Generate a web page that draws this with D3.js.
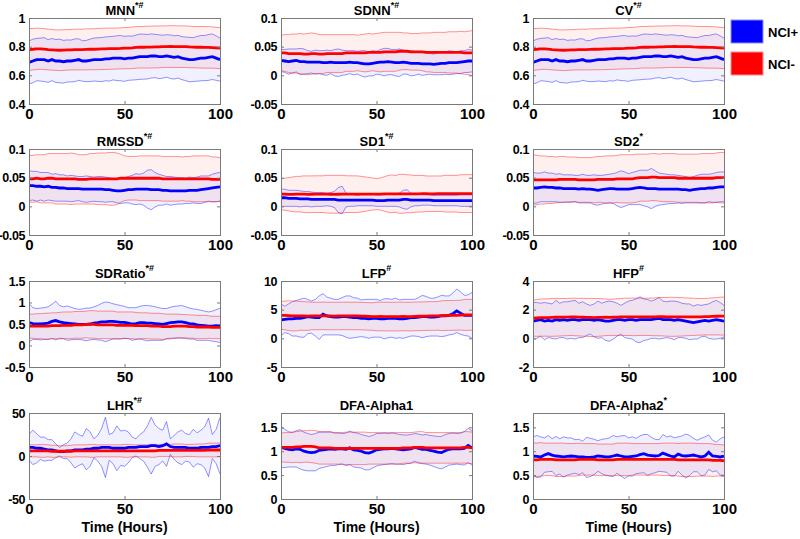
<!DOCTYPE html>
<html>
<head>
<meta charset="utf-8">
<script src="https://cdn.jsdelivr.net/npm/d3@7"></script>
<style>
body { margin: 0; background: #fff; }
svg { display: block; font-family: "Liberation Sans", Arial, sans-serif; font-weight: bold; }
</style>
</head>
<body>
<div id="chart"></div>
<script>
const w = 800;
const h = 539;

// hours on the x axis
const hours = [0,2,4,6,8,10,12,14,16,18,20,22,24,26,28,30,32,34,36,38,40,42,44,46,48,50,
  52,54,56,58,60,62,64,66,68,70,72,74,76,78,80,82,84,86,88,90,92,94,96,98,100];
const xTicks = [0, 50, 100];

// MNN (NCI+ / NCI-) mean and sd
const mnnPosMean = [0.69,0.70,0.71,0.71,0.71,0.70,0.71,0.70,0.70,0.695,
  0.70,0.70,0.705,0.71,0.70,0.70,0.705,0.71,0.71,0.71,
  0.715,0.715,0.72,0.72,0.72,0.715,0.72,0.72,0.725,0.73,
  0.73,0.73,0.735,0.735,0.73,0.73,0.735,0.73,0.725,0.73,
  0.72,0.715,0.71,0.71,0.715,0.72,0.72,0.725,0.73,0.72,0.71];
const mnnPosSd = [0.150,0.152,0.148,0.150,0.153,0.149,0.147,0.150,0.152,0.149,
  0.147,0.146,0.149,0.145,0.141,0.144,0.148,0.150,0.152,0.154,
  0.153,0.155,0.152,0.156,0.158,0.157,0.155,0.153,0.156,0.158,
  0.157,0.155,0.154,0.151,0.153,0.150,0.148,0.152,0.151,0.149,
  0.150,0.152,0.155,0.153,0.156,0.158,0.157,0.160,0.159,0.155,0.150];
const mnnNegMean = [0.78,0.782,0.785,0.785,0.783,0.78,0.778,0.776,0.775,0.776,
  0.778,0.778,0.78,0.78,0.78,0.781,0.782,0.782,0.783,0.784,
  0.785,0.786,0.786,0.787,0.788,0.79,0.79,0.792,0.795,0.796,
  0.796,0.797,0.797,0.798,0.798,0.80,0.80,0.801,0.80,0.80,
  0.80,0.80,0.798,0.797,0.796,0.796,0.795,0.795,0.794,0.792,0.79];
const mnnNegSd = [0.146,0.145,0.144,0.143,0.143,0.142,0.142,0.141,0.142,0.142,
  0.141,0.141,0.142,0.142,0.142,0.143,0.143,0.143,0.144,0.144,
  0.144,0.144,0.143,0.143,0.143,0.144,0.144,0.145,0.145,0.145,
  0.145,0.146,0.146,0.146,0.146,0.145,0.145,0.146,0.146,0.145,
  0.145,0.145,0.145,0.144,0.144,0.145,0.145,0.145,0.144,0.143,0.143];

// SDNN
const sdnnPosMean = [0.026,0.025,0.024,0.025,0.026,0.024,0.024,0.023,0.023,0.023,
  0.023,0.022,0.022,0.023,0.022,0.022,0.022,0.022,0.023,0.022,
  0.022,0.021,0.020,0.020,0.021,0.022,0.023,0.023,0.024,0.023,
  0.022,0.022,0.023,0.022,0.021,0.021,0.021,0.020,0.020,0.020,
  0.019,0.020,0.021,0.021,0.022,0.022,0.022,0.023,0.024,0.025,0.025];
const sdnnPosSd = [0.019,0.020,0.022,0.021,0.020,0.023,0.022,0.020,0.019,0.021,
  0.020,0.021,0.022,0.020,0.023,0.024,0.022,0.021,0.020,0.021,
  0.020,0.022,0.023,0.021,0.022,0.020,0.022,0.024,0.023,0.022,
  0.023,0.024,0.021,0.020,0.022,0.021,0.019,0.020,0.019,0.018,
  0.018,0.019,0.020,0.019,0.021,0.020,0.019,0.020,0.019,0.020,0.019];
const sdnnNegMean = [0.039,0.039,0.038,0.038,0.038,0.038,0.037,0.037,0.038,0.038,
  0.037,0.037,0.038,0.038,0.038,0.038,0.038,0.039,0.039,0.039,
  0.039,0.039,0.039,0.040,0.040,0.040,0.040,0.041,0.041,0.041,
  0.041,0.042,0.042,0.042,0.041,0.041,0.041,0.041,0.040,0.040,
  0.040,0.040,0.040,0.040,0.040,0.040,0.040,0.040,0.039,0.039,0.039];
const sdnnNegSd = [0.031,0.032,0.033,0.034,0.034,0.035,0.035,0.036,0.036,0.035,
  0.034,0.034,0.033,0.033,0.033,0.033,0.033,0.032,0.032,0.032,
  0.031,0.032,0.033,0.033,0.032,0.033,0.034,0.034,0.034,0.034,
  0.034,0.033,0.032,0.032,0.032,0.032,0.032,0.033,0.034,0.034,
  0.035,0.035,0.035,0.035,0.036,0.036,0.036,0.037,0.037,0.038,0.039];

// CV (same traces as MNN in the figure)
const cvPosMean = mnnPosMean, cvPosSd = mnnPosSd;
const cvNegMean = mnnNegMean, cvNegSd = mnnNegSd;

// RMSSD
const rmssdPosMean = [0.036,0.036,0.035,0.035,0.034,0.035,0.033,0.033,0.032,0.032,
  0.031,0.031,0.031,0.031,0.030,0.030,0.030,0.030,0.030,0.030,
  0.029,0.029,0.028,0.027,0.027,0.028,0.029,0.029,0.030,0.030,
  0.030,0.030,0.029,0.029,0.029,0.028,0.028,0.027,0.027,0.027,
  0.027,0.027,0.028,0.028,0.028,0.029,0.030,0.031,0.032,0.033,0.034];
const rmssdPosSd = [0.026,0.025,0.026,0.024,0.025,0.024,0.023,0.024,0.023,0.023,
  0.022,0.023,0.022,0.021,0.022,0.023,0.022,0.021,0.022,0.022,
  0.022,0.021,0.020,0.021,0.022,0.022,0.023,0.025,0.027,0.026,
  0.028,0.033,0.035,0.030,0.027,0.026,0.024,0.025,0.024,0.023,
  0.023,0.022,0.023,0.022,0.023,0.024,0.023,0.022,0.024,0.025,0.025];
const rmssdNegMean = [0.048,0.048,0.049,0.048,0.048,0.049,0.049,0.048,0.048,0.048,
  0.048,0.048,0.048,0.047,0.047,0.047,0.048,0.048,0.048,0.048,
  0.048,0.048,0.048,0.048,0.049,0.049,0.049,0.049,0.049,0.049,
  0.049,0.049,0.049,0.049,0.049,0.048,0.048,0.048,0.048,0.048,
  0.048,0.048,0.048,0.048,0.048,0.048,0.048,0.048,0.047,0.047,0.047];
const rmssdNegSd = [0.040,0.041,0.041,0.042,0.042,0.043,0.043,0.044,0.044,0.044,
  0.044,0.045,0.044,0.043,0.043,0.043,0.044,0.044,0.045,0.045,
  0.045,0.046,0.046,0.045,0.042,0.039,0.038,0.038,0.038,0.039,
  0.039,0.039,0.039,0.039,0.039,0.039,0.039,0.039,0.039,0.039,
  0.038,0.039,0.039,0.040,0.040,0.040,0.040,0.040,0.039,0.039,0.038];

// SD1
const sd1PosMean = [0.015,0.015,0.014,0.014,0.014,0.013,0.013,0.013,0.012,0.012,
  0.012,0.012,0.012,0.012,0.012,0.011,0.011,0.011,0.011,0.011,
  0.011,0.011,0.011,0.011,0.011,0.010,0.010,0.010,0.011,0.011,
  0.011,0.011,0.012,0.012,0.011,0.011,0.011,0.011,0.011,0.011,
  0.010,0.010,0.010,0.010,0.010,0.010,0.010,0.010,0.010,0.010,0.010];
const sd1PosSd = [0.015,0.015,0.014,0.014,0.014,0.014,0.013,0.013,0.013,0.012,
  0.012,0.012,0.011,0.012,0.014,0.022,0.024,0.012,0.011,0.011,
  0.010,0.010,0.010,0.010,0.010,0.010,0.010,0.010,0.011,0.011,
  0.011,0.012,0.016,0.017,0.012,0.010,0.010,0.009,0.009,0.009,
  0.009,0.009,0.009,0.009,0.009,0.009,0.009,0.010,0.010,0.010,0.010];
const sd1NegMean = [0.0212,0.0212,0.0210,0.0210,0.0212,0.0213,0.0212,0.0210,0.0211,0.0212,
  0.0213,0.0212,0.0212,0.0211,0.0210,0.0211,0.0212,0.0213,0.0213,0.0212,
  0.0211,0.0212,0.0213,0.0214,0.0214,0.0213,0.0214,0.0216,0.0217,0.0218,
  0.0218,0.0218,0.0219,0.0219,0.0218,0.0218,0.0219,0.0220,0.0220,0.0219,
  0.0219,0.0220,0.0220,0.0221,0.0221,0.0220,0.0220,0.0221,0.0222,0.0222,0.0222];
const sd1NegSd = [0.027,0.028,0.029,0.030,0.031,0.031,0.032,0.032,0.032,0.032,
  0.032,0.032,0.033,0.033,0.033,0.033,0.033,0.032,0.032,0.032,
  0.032,0.031,0.030,0.029,0.028,0.027,0.028,0.030,0.032,0.033,
  0.032,0.034,0.034,0.033,0.033,0.032,0.032,0.032,0.031,0.031,
  0.031,0.031,0.031,0.032,0.032,0.032,0.032,0.033,0.033,0.033,0.033];

// SD2
const sd2PosMean = [0.032,0.032,0.033,0.034,0.033,0.033,0.032,0.032,0.031,0.031,
  0.031,0.031,0.030,0.031,0.030,0.030,0.029,0.028,0.029,0.030,
  0.031,0.031,0.030,0.030,0.030,0.030,0.031,0.032,0.033,0.032,
  0.031,0.031,0.031,0.030,0.030,0.030,0.030,0.030,0.030,0.029,
  0.029,0.028,0.029,0.030,0.031,0.031,0.032,0.032,0.033,0.034,0.034];
const sd2PosSd = [0.027,0.026,0.025,0.026,0.025,0.025,0.024,0.025,0.024,0.024,
  0.024,0.023,0.024,0.025,0.024,0.024,0.026,0.026,0.025,0.025,
  0.025,0.026,0.029,0.032,0.030,0.027,0.028,0.029,0.030,0.031,
  0.032,0.035,0.031,0.028,0.027,0.026,0.025,0.025,0.024,0.024,
  0.023,0.022,0.023,0.024,0.025,0.025,0.024,0.025,0.026,0.026,0.026];
const sd2NegMean = [0.046,0.046,0.046,0.046,0.046,0.046,0.046,0.047,0.047,0.047,
  0.047,0.047,0.046,0.046,0.046,0.046,0.046,0.047,0.047,0.047,
  0.047,0.047,0.048,0.048,0.048,0.048,0.048,0.049,0.050,0.050,
  0.050,0.051,0.051,0.050,0.050,0.050,0.050,0.050,0.049,0.049,
  0.049,0.049,0.049,0.049,0.049,0.049,0.049,0.049,0.050,0.050,0.050];
const sd2NegSd = [0.044,0.043,0.042,0.042,0.041,0.041,0.040,0.040,0.040,0.039,
  0.039,0.039,0.039,0.039,0.039,0.039,0.040,0.040,0.040,0.041,
  0.041,0.041,0.041,0.042,0.042,0.042,0.042,0.042,0.041,0.041,
  0.041,0.041,0.041,0.041,0.042,0.042,0.042,0.042,0.042,0.042,
  0.042,0.042,0.042,0.042,0.043,0.043,0.043,0.043,0.043,0.044,0.044];

// SDRatio
const sdrPosMean = [0.53,0.51,0.50,0.50,0.51,0.52,0.56,0.58,0.55,0.53,
  0.52,0.51,0.50,0.49,0.49,0.49,0.50,0.52,0.53,0.55,
  0.55,0.56,0.56,0.55,0.54,0.54,0.52,0.50,0.51,0.53,
  0.53,0.52,0.52,0.51,0.50,0.49,0.51,0.53,0.54,0.55,
  0.55,0.53,0.51,0.50,0.48,0.47,0.46,0.45,0.45,0.46,0.47];
const sdrPosSd = [0.45,0.37,0.36,0.37,0.37,0.38,0.40,0.45,0.38,0.37,
  0.40,0.38,0.36,0.35,0.36,0.38,0.37,0.38,0.40,0.43,
  0.46,0.44,0.41,0.40,0.39,0.37,0.36,0.38,0.37,0.38,
  0.40,0.41,0.40,0.39,0.38,0.37,0.35,0.36,0.37,0.37,
  0.38,0.37,0.36,0.35,0.36,0.35,0.34,0.33,0.35,0.37,0.40];
const sdrNegMean = [0.45,0.45,0.45,0.45,0.45,0.45,0.46,0.46,0.46,0.47,
  0.47,0.47,0.48,0.48,0.48,0.49,0.49,0.49,0.48,0.48,
  0.48,0.48,0.48,0.47,0.47,0.47,0.47,0.47,0.46,0.46,
  0.46,0.46,0.45,0.45,0.45,0.44,0.44,0.44,0.45,0.45,
  0.45,0.45,0.44,0.44,0.43,0.43,0.43,0.43,0.42,0.42,0.42];
const sdrNegSd = [0.28,0.28,0.29,0.29,0.30,0.30,0.30,0.30,0.31,0.31,
  0.31,0.31,0.31,0.31,0.31,0.31,0.32,0.32,0.32,0.32,
  0.32,0.32,0.32,0.31,0.31,0.31,0.31,0.31,0.31,0.30,
  0.30,0.30,0.30,0.30,0.30,0.30,0.29,0.29,0.28,0.28,
  0.27,0.27,0.27,0.27,0.27,0.27,0.27,0.26,0.26,0.26,0.26];

// LFP
const lfpPosMean = [3.2,3.3,3.4,3.4,3.5,3.5,3.6,3.8,3.7,3.6,
  3.6,4.2,3.9,3.8,3.7,3.7,3.8,3.8,3.7,3.6,
  3.6,3.5,3.5,3.4,3.5,3.5,3.4,3.4,3.5,3.5,
  3.5,3.4,3.4,3.5,3.6,3.6,3.7,3.8,3.8,3.7,
  3.7,3.8,3.9,3.9,4.0,4.3,4.8,4.4,4.0,4.0,4.0];
const lfpPosSd = [2.8,2.3,2.6,3.0,3.1,3.3,3.4,3.0,2.8,3.2,
  3.8,3.6,3.3,3.2,3.1,3.1,3.3,3.6,3.7,3.5,
  3.4,3.2,3.3,3.4,3.3,3.3,3.2,3.5,3.4,3.3,
  3.5,3.3,3.4,3.3,3.2,3.2,3.4,3.7,3.5,3.3,
  3.3,3.4,3.6,3.5,3.4,3.6,3.8,3.7,3.5,3.6,4.0];
const lfpNegMean = [4.0,4.0,3.95,3.9,3.9,3.92,3.9,3.88,3.9,3.9,
  3.9,3.92,3.9,3.9,3.88,3.9,3.9,3.92,3.9,3.9,
  3.9,3.88,3.85,3.82,3.8,3.8,3.82,3.8,3.8,3.78,
  3.8,3.8,3.82,3.8,3.8,3.82,3.85,3.85,3.88,3.9,
  3.9,3.92,3.95,3.98,4.0,4.0,4.02,4.05,4.08,4.1,4.1];
const lfpNegSd = [2.4,2.5,2.6,2.6,2.6,2.5,2.5,2.5,2.4,2.4,
  2.4,2.4,2.4,2.4,2.4,2.4,2.4,2.4,2.4,2.4,
  2.4,2.4,2.4,2.4,2.4,2.5,2.5,2.5,2.5,2.5,
  2.5,2.5,2.5,2.5,2.5,2.5,2.5,2.5,2.5,2.5,
  2.5,2.5,2.6,2.6,2.6,2.6,2.6,2.6,2.7,2.7,2.7];

// HFP
const hfpPosMean = [1.2,1.25,1.3,1.2,1.25,1.2,1.3,1.25,1.3,1.25,
  1.3,1.3,1.25,1.3,1.3,1.3,1.25,1.3,1.25,1.2,
  1.2,1.25,1.3,1.3,1.25,1.3,1.3,1.25,1.3,1.3,
  1.3,1.3,1.35,1.4,1.3,1.3,1.3,1.25,1.3,1.25,
  1.2,1.15,1.1,1.15,1.2,1.25,1.2,1.25,1.3,1.25,1.2];
const hfpPosSd = [1.3,1.25,1.15,1.3,1.2,1.2,1.35,1.2,1.25,1.3,
  1.3,1.35,1.2,1.25,1.1,1.0,1.15,1.3,1.2,1.35,
  1.4,1.3,1.15,1.0,1.2,1.3,1.35,1.5,1.6,1.45,
  1.4,1.3,1.35,1.45,1.3,1.25,1.3,1.35,1.25,1.2,
  1.2,1.25,1.15,1.2,1.1,1.1,1.2,1.3,1.35,1.25,1.1];
const hfpNegMean = [1.4,1.42,1.44,1.45,1.45,1.46,1.47,1.47,1.48,1.48,
  1.5,1.49,1.48,1.47,1.46,1.46,1.45,1.46,1.46,1.47,
  1.46,1.47,1.48,1.49,1.5,1.5,1.5,1.5,1.5,1.5,
  1.5,1.5,1.5,1.51,1.51,1.5,1.5,1.5,1.5,1.5,
  1.5,1.5,1.5,1.5,1.5,1.51,1.52,1.53,1.54,1.55,1.55];
const hfpNegSd = [1.25,1.28,1.30,1.30,1.31,1.32,1.32,1.31,1.30,1.30,
  1.30,1.31,1.31,1.32,1.32,1.33,1.33,1.32,1.30,1.28,
  1.26,1.27,1.28,1.29,1.30,1.30,1.31,1.31,1.30,1.30,
  1.30,1.31,1.32,1.33,1.34,1.35,1.36,1.36,1.35,1.34,
  1.32,1.31,1.30,1.28,1.28,1.27,1.28,1.29,1.30,1.32,1.33];

// LHR
const lhrPosMean = [10,10,9,9,8,7,7,6,5,5,
  6,6,7,7,7,8,8,9,9,10,
  10,10,9,9,9,9,10,10,10,11,
  11,11,12,12,11,12,14,11,10,10,
  10,10,9,9,9,10,10,10,11,11,12];
const lhrPosSd = [15,20,17,13,14,12,12,8,5,8,
  9,14,21,18,16,24,20,11,15,22,
  35,15,18,26,20,21,18,12,10,14,
  17,24,33,24,21,18,26,9,14,18,
  20,16,16,22,18,20,24,34,14,20,33];
const lhrNegMean = [6,6,6,6,6,6,5.5,5.5,5.5,5.5,
  5.5,5.5,6,6,6,6,6,6,6,6,
  6,6,6,6,6,6,6,6,6,6,
  6,6,6,6,6.5,6.5,6.5,6.5,6.5,6.5,
  6.5,6.5,6.5,6.5,6.5,6.5,6.5,7,7,7,7];
const lhrNegSd = [7,7,7,7.5,7.5,7,7,7,6.5,6.5,
  6.5,7,7,7,7,7,7.5,7.5,7,7,
  7,7,7,7,7,7.5,7.5,7,7,7,
  7,7,7.5,7.5,7,7,7,7,7.5,7.5,
  7.5,7,7,7,7.5,7.5,7.5,8,8,8,8];

// DFA-Alpha1
const dfa1PosMean = [1.08,1.06,1.04,1.03,1.05,1.04,1.00,0.98,0.97,0.98,
  1.02,1.03,1.04,1.05,1.04,1.05,1.05,1.04,1.07,1.03,
  1.02,1.00,0.97,0.96,0.99,1.03,1.04,1.05,1.05,1.06,
  1.05,1.04,1.03,1.04,1.05,1.08,1.06,1.04,1.04,1.02,
  1.00,0.98,0.97,1.01,1.04,1.05,1.05,1.05,1.06,1.12,1.07];
const dfa1PosSd = [0.42,0.40,0.37,0.36,0.38,0.41,0.40,0.39,0.38,0.39,
  0.38,0.37,0.36,0.35,0.34,0.33,0.32,0.34,0.35,0.36,
  0.36,0.35,0.36,0.35,0.34,0.34,0.33,0.33,0.32,0.32,
  0.32,0.31,0.31,0.30,0.30,0.29,0.30,0.30,0.31,0.31,
  0.32,0.33,0.34,0.34,0.33,0.33,0.32,0.33,0.35,0.36,0.36];
const dfa1NegMean = [1.08,1.08,1.08,1.08,1.09,1.09,1.10,1.10,1.10,1.09,
  1.07,1.07,1.07,1.07,1.06,1.06,1.06,1.06,1.06,1.06,
  1.06,1.06,1.06,1.06,1.06,1.06,1.06,1.06,1.06,1.06,
  1.06,1.06,1.07,1.07,1.07,1.08,1.08,1.08,1.07,1.07,
  1.07,1.07,1.07,1.07,1.07,1.07,1.07,1.07,1.08,1.08,1.07];
const dfa1NegSd = [0.30,0.31,0.31,0.32,0.32,0.33,0.33,0.33,0.34,0.34,
  0.34,0.34,0.34,0.34,0.33,0.33,0.33,0.34,0.34,0.34,
  0.34,0.34,0.34,0.33,0.33,0.33,0.33,0.33,0.33,0.33,
  0.33,0.33,0.32,0.32,0.32,0.32,0.33,0.33,0.32,0.32,
  0.32,0.32,0.32,0.32,0.32,0.32,0.32,0.32,0.33,0.33,0.33];

// DFA-Alpha2
const dfa2PosMean = [0.90,0.89,0.88,0.92,0.95,0.92,0.90,0.89,0.88,0.89,
  0.90,0.89,0.88,0.88,0.87,0.87,0.88,0.90,0.89,0.88,
  0.88,0.90,0.92,0.90,0.88,0.88,0.89,0.90,0.93,0.95,
  0.92,0.91,0.90,0.91,0.96,0.93,0.90,0.88,0.94,0.91,
  0.90,0.91,0.92,0.90,0.88,0.90,0.98,0.90,0.89,0.88,0.90];
const dfa2PosSd = [0.40,0.44,0.42,0.36,0.38,0.34,0.41,0.37,0.42,0.39,
  0.38,0.35,0.37,0.33,0.42,0.40,0.37,0.32,0.36,0.38,
  0.40,0.43,0.38,0.42,0.45,0.40,0.41,0.37,0.39,0.40,
  0.43,0.38,0.35,0.33,0.39,0.37,0.42,0.40,0.36,0.41,
  0.46,0.42,0.35,0.33,0.39,0.40,0.36,0.33,0.30,0.38,0.40];
const dfa2NegMean = [0.82,0.82,0.83,0.83,0.83,0.83,0.82,0.82,0.82,0.82,
  0.82,0.82,0.83,0.83,0.83,0.83,0.83,0.82,0.82,0.82,
  0.82,0.82,0.83,0.83,0.83,0.83,0.83,0.83,0.83,0.83,
  0.83,0.83,0.83,0.83,0.83,0.83,0.83,0.83,0.82,0.82,
  0.82,0.82,0.82,0.82,0.82,0.82,0.82,0.81,0.81,0.81,0.80];
const dfa2NegSd = [0.36,0.35,0.35,0.34,0.34,0.34,0.35,0.35,0.35,0.34,
  0.34,0.34,0.34,0.33,0.33,0.33,0.33,0.33,0.33,0.33,
  0.33,0.33,0.34,0.34,0.34,0.34,0.33,0.33,0.33,0.33,
  0.33,0.33,0.33,0.33,0.34,0.34,0.34,0.34,0.34,0.35,
  0.35,0.35,0.35,0.34,0.34,0.34,0.34,0.34,0.33,0.33,0.33];

// y axis limits and tick labels
const ticksMnn = [0.4, 0.6, 0.8, 1];
const ticksSmall = [-0.05, 0, 0.05, 0.1];
const ticksSdr = [-0.5, 0, 0.5, 1, 1.5];
const ticksLfp = [-5, 0, 5, 10];
const ticksHfp = [-2, 0, 2, 4];
const ticksLhr = [-50, 0, 50];
const ticksDfa = [0, 0.5, 1, 1.5];
const limDfa = [0, 1.8];

const groupNames = ["NCI+", "NCI-"];

const panels = [
  { title: "MNN", sup: "*#", lim: [0.4, 1], ticks: ticksMnn, pos: [mnnPosMean, mnnPosSd], neg: [mnnNegMean, mnnNegSd] },
  { title: "SDNN", sup: "*#", lim: [-0.05, 0.1], ticks: ticksSmall, pos: [sdnnPosMean, sdnnPosSd], neg: [sdnnNegMean, sdnnNegSd] },
  { title: "CV", sup: "*#", lim: [0.4, 1], ticks: ticksMnn, pos: [cvPosMean, cvPosSd], neg: [cvNegMean, cvNegSd] },
  { title: "RMSSD", sup: "*#", lim: [-0.05, 0.1], ticks: ticksSmall, pos: [rmssdPosMean, rmssdPosSd], neg: [rmssdNegMean, rmssdNegSd] },
  { title: "SD1", sup: "*#", lim: [-0.05, 0.1], ticks: ticksSmall, pos: [sd1PosMean, sd1PosSd], neg: [sd1NegMean, sd1NegSd] },
  { title: "SD2", sup: "*", lim: [-0.05, 0.1], ticks: ticksSmall, pos: [sd2PosMean, sd2PosSd], neg: [sd2NegMean, sd2NegSd] },
  { title: "SDRatio", sup: "*#", lim: [-0.5, 1.5], ticks: ticksSdr, pos: [sdrPosMean, sdrPosSd], neg: [sdrNegMean, sdrNegSd] },
  { title: "LFP", sup: "#", lim: [-5, 10], ticks: ticksLfp, pos: [lfpPosMean, lfpPosSd], neg: [lfpNegMean, lfpNegSd] },
  { title: "HFP", sup: "#", lim: [-2, 4], ticks: ticksHfp, pos: [hfpPosMean, hfpPosSd], neg: [hfpNegMean, hfpNegSd] },
  { title: "LHR", sup: "*#", lim: [-50, 50], ticks: ticksLhr, pos: [lhrPosMean, lhrPosSd], neg: [lhrNegMean, lhrNegSd] },
  { title: "DFA-Alpha1", sup: "", lim: limDfa, ticks: ticksDfa, pos: [dfa1PosMean, dfa1PosSd], neg: [dfa1NegMean, dfa1NegSd] },
  { title: "DFA-Alpha2", sup: "*", lim: limDfa, ticks: ticksDfa, pos: [dfa2PosMean, dfa2PosSd], neg: [dfa2NegMean, dfa2NegSd] }
];

const blue = "#0000ff";
const red = "#ff0000";
const boxColor = "#7a7a7a";

const colX = [29, 281, 533];
const rowY = [18, 149, 281, 413];
const pw = 191;
const ph = 86;

const svg = d3.select("#chart")
    .append("svg")
    .attr("width", w)
    .attr("height", h);

const x = d3.scaleLinear().domain([0, 100]).range([0, pw]);
const fmt = d => String(d);

function rows(pair) {
    return hours.map((hr, i) => ({ h: hr, m: pair[0][i], s: pair[1][i] }));
}

function styleAxis(sel, size) {
    sel.select(".domain").remove();
    sel.attr("font-family", null).attr("font-size", size);
    sel.selectAll(".tick line").attr("stroke", boxColor);
    sel.selectAll(".tick text").attr("fill", "#000");
}

panels.forEach(function (p, k) {
    const g = svg.append("g")
        .attr("transform", `translate(${colX[k % 3]},${rowY[Math.floor(k / 3)]})`);
    const y = d3.scaleLinear().domain(p.lim).range([ph, 0]);

    g.append("clipPath").attr("id", "clip" + k)
        .append("rect").attr("width", pw).attr("height", ph);

    const plot = g.append("g").attr("clip-path", `url(#clip${k})`);

    const groups = [
        { data: rows(p.pos), color: blue },
        { data: rows(p.neg), color: red }
    ];

    const band = d3.area()
        .x(d => x(d.h))
        .y0(d => y(d.m - d.s))
        .y1(d => y(d.m + d.s));
    const upper = d3.line().x(d => x(d.h)).y(d => y(d.m + d.s));
    const lower = d3.line().x(d => x(d.h)).y(d => y(d.m - d.s));
    const mean = d3.line().x(d => x(d.h)).y(d => y(d.m));

    groups.forEach(gr => {
        plot.append("path").datum(gr.data)
            .attr("d", band)
            .attr("fill", gr.color)
            .attr("fill-opacity", 0.06);
    });
    groups.forEach(gr => {
        [upper, lower].forEach(fn => {
            plot.append("path").datum(gr.data)
                .attr("d", fn)
                .attr("fill", "none")
                .attr("stroke", gr.color)
                .attr("stroke-opacity", 0.42)
                .attr("stroke-width", 1);
        });
    });
    groups.forEach(gr => {
        plot.append("path").datum(gr.data)
            .attr("d", mean)
            .attr("fill", "none")
            .attr("stroke", gr.color)
            .attr("stroke-width", 2.8);
    });

    // axes, ticks pointing inward on all four sides
    g.append("g")
        .call(d3.axisLeft(y).tickValues(p.ticks).tickSize(-3).tickPadding(4).tickFormat(fmt))
        .call(s => styleAxis(s, 12.5))
        .selectAll(".tick text").attr("letter-spacing", -0.4);
    g.append("g").attr("transform", `translate(${pw},0)`)
        .call(d3.axisRight(y).tickValues(p.ticks).tickSize(-3).tickFormat(""))
        .call(s => styleAxis(s, 12));
    g.append("g").attr("transform", `translate(0,${ph})`)
        .call(d3.axisBottom(x).tickValues(xTicks).tickSize(-3).tickPadding(4).tickFormat(fmt))
        .call(s => styleAxis(s, 15));
    g.append("g")
        .call(d3.axisTop(x).tickValues(xTicks).tickSize(-3).tickFormat(""))
        .call(s => styleAxis(s, 14));

    g.append("rect")
        .attr("x", 0).attr("y", 0)
        .attr("width", pw).attr("height", ph)
        .attr("fill", "none")
        .attr("stroke", boxColor)
        .attr("shape-rendering", "crispEdges");

    const t = g.append("text")
        .attr("x", pw / 2)
        .attr("y", -3)
        .attr("text-anchor", "middle")
        .attr("font-size", 13);
    t.append("tspan").text(p.title);
    if (p.sup) {
        t.append("tspan").attr("dy", -7).attr("font-size", 9).text(p.sup);
    }

    if (k >= 9) {
        g.append("text")
            .attr("x", pw / 2)
            .attr("y", ph + 33)
            .attr("text-anchor", "middle")
            .attr("font-size", 14)
            .text("Time (Hours)");
    }
});

// legend
const legend = svg.append("g").attr("transform", "translate(731,20)");
groupNames.forEach(function (name, i) {
    const c = i === 0 ? blue : red;
    legend.append("rect")
        .attr("x", 0).attr("y", i * 32)
        .attr("width", 32).attr("height", 23)
        .attr("fill", c)
        .attr("stroke", i === 0 ? "#8c8cff" : "#ff8c8c");
    legend.append("text")
        .attr("x", 37).attr("y", i * 32 + 12)
        .attr("dy", "0.35em")
        .attr("font-size", 13)
        .text(name);
});
</script>
</body>
</html>
